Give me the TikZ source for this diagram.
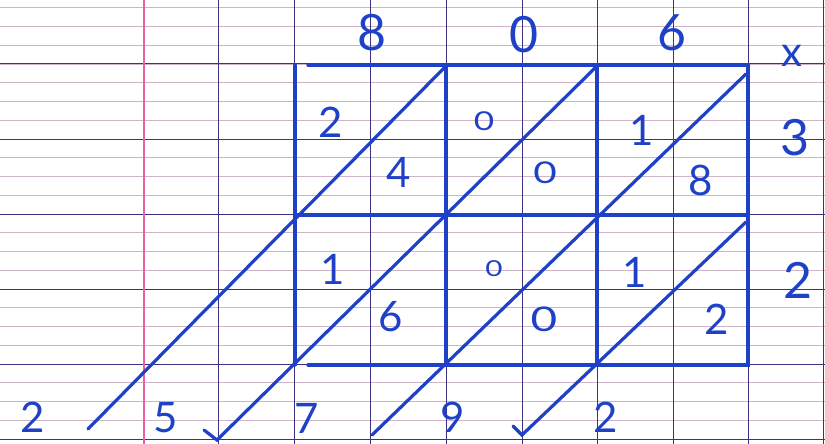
\documentclass[tikz,border=0pt]{standalone}
\usepackage{fontspec}
\setmainfont{Lato}
\definecolor{penblue}{RGB}{30,65,200}
\definecolor{minorline}{RGB}{205,180,198}
\definecolor{majorline}{RGB}{60,50,130}
\definecolor{marginred}{RGB}{235,95,165}
\begin{document}
\begin{tikzpicture}[x=1pt,y=-1pt,
  minor/.style={draw=minorline, line width=0.9pt},
  major/.style={draw=majorline, line width=1.0pt},
  marginline/.style={draw=marginred, line width=1.2pt},
  pen/.style={draw=penblue, line width=3.2pt, line cap=round},
  big/.style={text=penblue, font=\fontsize{50}{50}\selectfont, inner sep=0pt},
  mid/.style={text=penblue, font=\fontsize{42}{42}\selectfont, inner sep=0pt},
  small/.style={text=penblue, font=\fontsize{26}{26}\selectfont, inner sep=0pt, xscale=1.35}]
\useasboundingbox (0,0) rectangle (825,444);
\fill[white] (0,0) rectangle (825,444);
% paper
\foreach \k in {0,...,23} {
  \pgfmathsetmacro\yy{7.75+18.75*\k}
  \draw[minor] (0,\yy) -- (825,\yy);
}
\foreach \yy in {64,139,214,289,364,439} \draw[major] (0,\yy) -- (825,\yy);
\foreach \xx in {218,294,370,446,522,597,673,748,823} \draw[major] (\xx,0) -- (\xx,444);
\draw[marginline] (144,0) -- (144,444);
% lattice corners
\coordinate (a0) at (295,65);  \coordinate (a1) at (446,65);
\coordinate (a2) at (597,65);  \coordinate (a3) at (748,65);
\coordinate (b0) at (295,215); \coordinate (b1) at (446,215);
\coordinate (b2) at (597,215); \coordinate (b3) at (748,215);
\coordinate (c0) at (295,365); \coordinate (c1) at (446,365);
\coordinate (c2) at (597,365); \coordinate (c3) at (748,365);
% frame
\draw[pen] (a0) -- (c0);
\draw[pen] (308,65) -- (a3) -- (c3) -- (308,365);
\draw[pen] (a1) -- (c1);
\draw[pen] (a2) -- (c2);
\draw[pen] (b0) -- (b3);
% diagonals
\coordinate (e1) at (88,429);
\coordinate (e2) at (217,440);  \coordinate (h2) at (204,430);
\coordinate (e3) at (372,435);
\coordinate (e4) at (522,435);  \coordinate (h4) at (513,426);
\draw[pen] (444,68) -- (e1);
\draw[pen] (595,68) -- (e2) -- (h2);
\draw[pen] (746,74) -- (e3);
\draw[pen] (746,222) -- (e4) -- (h4);
% top factor
\node[big] (t8) at (372,33) {8};
\node[big] (t0) at (524,35) {0};
\node[big] (t6) at (672,33) {6};
\node[mid] (tx) at (792,56) {x};
% right factor
\node[big] (r3) at (795,138) {3};
\node[big] (r2) at (798,280) {2};
% cells
\node[mid] (p1) at (331,122) {2};
\node[mid] (p2) at (399,172) {4};
\node[small] (p3) at (484,121) {0};
\node[small,font=\fontsize{30}{30}\selectfont] (p4) at (545,173) {0};
\node[mid] (p5) at (642,130) {1};
\node[mid] (p6) at (701,180) {8};
\node[mid] (q1) at (333,269) {1};
\node[mid] (q2) at (391,317) {6};
\node[small,font=\fontsize{22}{22}\selectfont] (q3) at (494,269) {0};
\node[small,font=\fontsize{34}{34}\selectfont] (q4) at (544,319) {0};
\node[mid] (q5) at (635,272) {1};
\node[mid] (q6) at (717,319) {2};
% result
\node[mid] (s1) at (33,417) {2};
\node[mid] (s2) at (166,418) {5};
\node[mid] (s3) at (307,418) {7};
\node[mid] (s4) at (453,417) {9};
\node[mid] (s5) at (606,417) {2};
\end{tikzpicture}
\end{document}
